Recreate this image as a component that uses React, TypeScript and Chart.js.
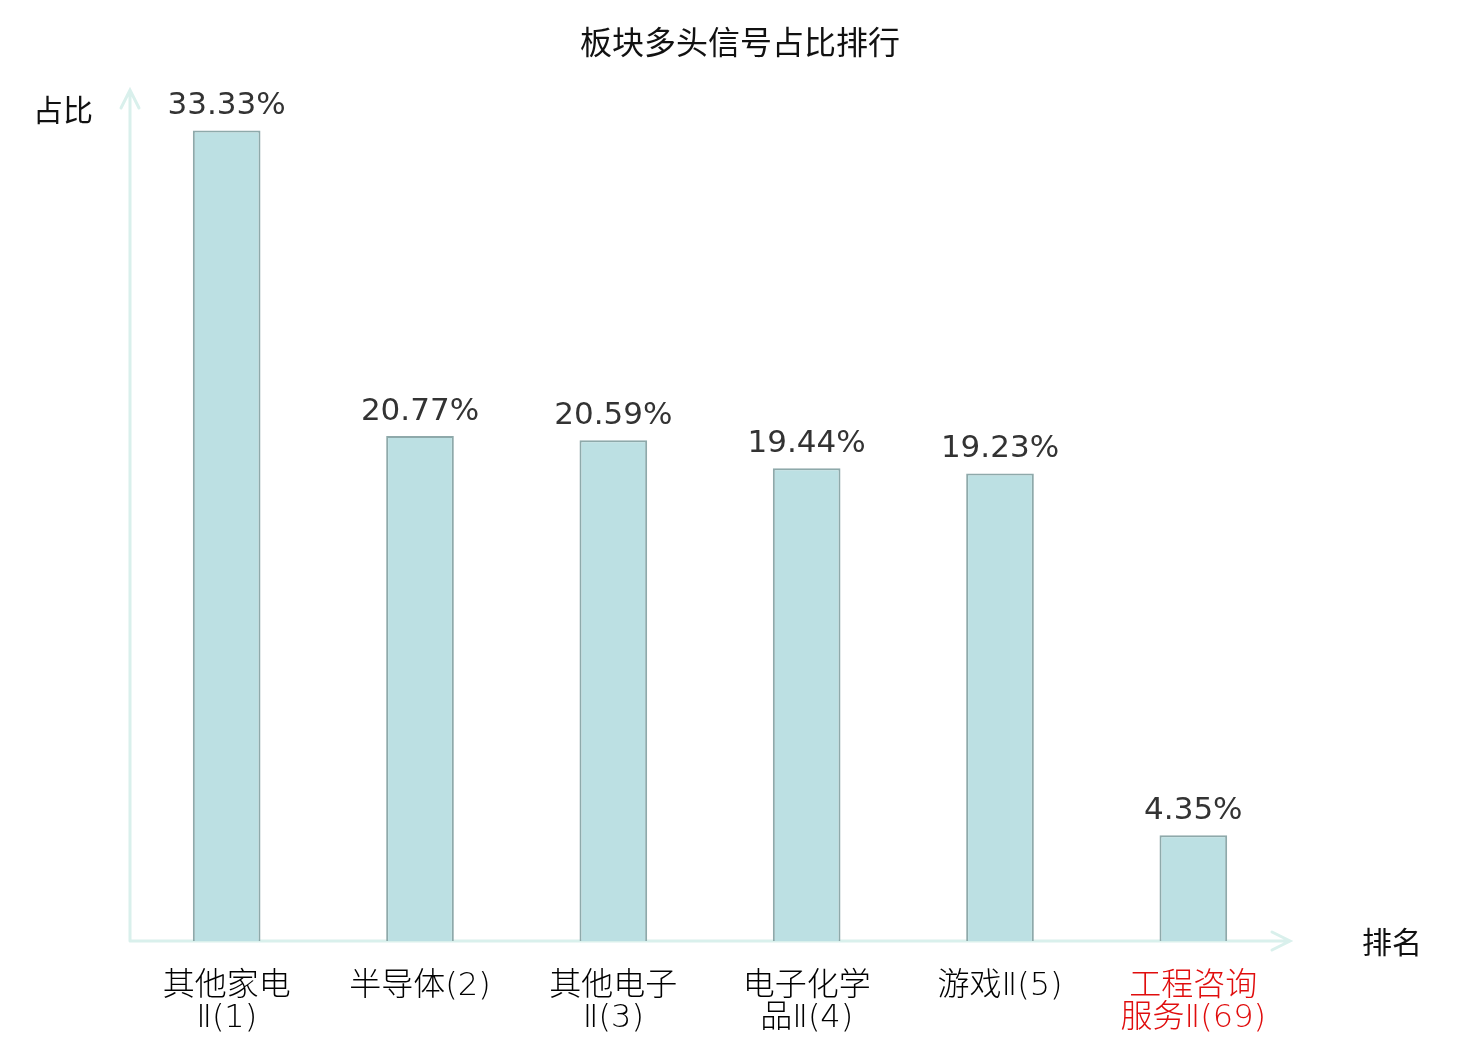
import { useEffect, useRef } from "react";
import { Chart, registerables, type Plugin } from "chart.js";

Chart.register(...registerables);

const categories: string[][] = [
  ["其他家电", "Ⅱ(1)"],
  ["半导体(2)"],
  ["其他电子", "Ⅱ(3)"],
  ["电子化学", "品Ⅱ(4)"],
  ["游戏Ⅱ(5)"],
  ["工程咨询", "服务Ⅱ(69)"]
];
const shares = [33.33, 20.77, 20.59, 19.44, 19.23, 4.35];
const labelColors = ["#000000", "#000000", "#000000", "#000000", "#000000", "#e00d0d"];

const CJK = '"Noto Sans CJK SC", "DejaVu Sans", sans-serif';
const TICK_FONT = '"DejaVu Sans", "Noto Sans CJK SC", sans-serif';
const AXIS = "#d9f0ec";

const axesPlugin: Plugin = {
  id: "arrowAxes",
  beforeDatasetsDraw(chart) {
    const { ctx, chartArea: a } = chart;
    ctx.save();
    ctx.strokeStyle = AXIS;
    ctx.lineWidth = 3;
    ctx.lineCap = "round";
    ctx.beginPath();
    ctx.moveTo(a.left, a.bottom);
    ctx.lineTo(a.left, a.top);
    ctx.moveTo(a.left, a.bottom);
    ctx.lineTo(a.right, a.bottom);
    // arrow heads
    ctx.moveTo(a.left - 9, a.top + 18);
    ctx.lineTo(a.left, a.top);
    ctx.lineTo(a.left + 9, a.top + 18);
    ctx.moveTo(a.right - 18, a.bottom - 9);
    ctx.lineTo(a.right, a.bottom);
    ctx.lineTo(a.right - 18, a.bottom + 9);
    ctx.stroke();
    ctx.fillStyle = "#111111";
    ctx.font = `30px ${CJK}`;
    ctx.textAlign = "center";
    ctx.textBaseline = "middle";
    ctx.fillText("占比", 63, a.top + 20);
    ctx.fillText("排名", a.right + 102, a.bottom + 1);
    ctx.font = `32px ${CJK}`;
    ctx.fillText("板块多头信号占比排行", chart.width / 2, 42);
    ctx.restore();
  },
  afterDatasetsDraw(chart) {
    const { ctx } = chart;
    const meta = chart.getDatasetMeta(0);
    ctx.save();
    ctx.fillStyle = "#333333";
    ctx.font = '31px "DejaVu Sans", sans-serif';
    ctx.textAlign = "center";
    ctx.textBaseline = "bottom";
    meta.data.forEach((bar, i) => {
      ctx.fillText(`${shares[i].toFixed(2)}%`, bar.x, bar.y - 9);
    });
    ctx.restore();
  }
};

function SectorChart() {
  const ref = useRef<HTMLCanvasElement | null>(null);
  useEffect(() => {
    if (!ref.current) return;
    const chart = new Chart(ref.current, {
      type: "bar",
      data: {
        labels: categories,
        datasets: [
          {
            data: shares,
            backgroundColor: "#bce0e3",
            borderColor: "#8ea9aa",
            borderWidth: 2,
            barPercentage: 0.35,
            categoryPercentage: 1
          }
        ]
      },
      options: {
        animation: false,
        responsive: false,
        layout: { padding: { left: 130, right: 190, top: 90, bottom: -25 } },
        plugins: {
          legend: { display: false },
          tooltip: { enabled: false },
          title: { display: false }
        },
        scales: {
          x: {
            grid: { display: false, drawTicks: false },
            border: { display: false },
            ticks: {
              color: (c) => labelColors[c.index] ?? "#000000",
              font: { family: TICK_FONT, size: 32, weight: 200, lineHeight: 1.0 },
              padding: 30,
              maxRotation: 0,
              autoSkip: false
            }
          },
          y: { display: false, min: 0, max: 35 }
        }
      },
      plugins: [axesPlugin]
    });
    return () => chart.destroy();
  }, []);
  return <canvas ref={ref} width={1480} height={1040} />;
}

export default function App() {
  return (
    <div style={{ position: "fixed", left: 0, top: 0, width: 1480, height: 1040, background: "#fff" }}>
      <SectorChart />
    </div>
  );
}
